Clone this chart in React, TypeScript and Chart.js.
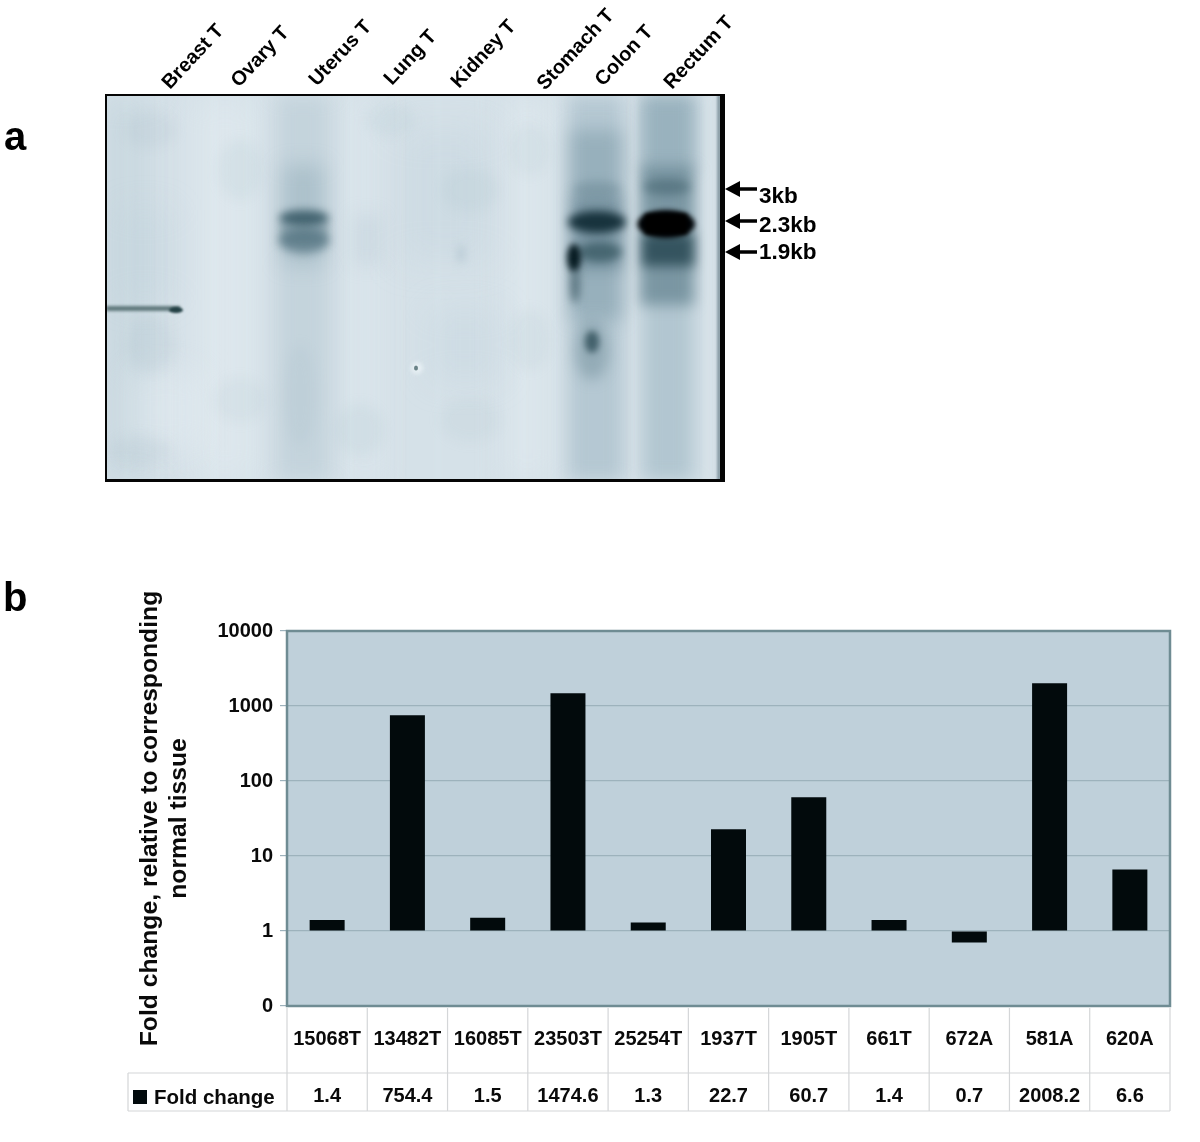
import React, { useEffect, useRef } from "react";
import { Chart, registerables } from "chart.js";

Chart.register(...registerables);

const samples = ["15068T", "13482T", "16085T", "23503T", "25254T", "1937T", "1905T", "661T", "672A", "581A", "620A"];
const foldChange = [1.4, 754.4, 1.5, 1474.6, 1.3, 22.7, 60.7, 1.4, 0.7, 2008.2, 6.6];
const yTicks = [0.1, 1, 10, 100, 1000, 10000];
const tissues = ["Breast T", "Ovary T", "Uterus T", "Lung T", "Kidney T", "Stomach T", "Colon T", "Rectum T"];
const sizes = ["3kb", "2.3kb", "1.9kb"];
const seriesName = "Fold change";
const yTitle = ["Fold change, relative to corresponding", "normal tissue"];

const FONT = '"Liberation Sans", Arial, sans-serif';

function blob(ctx: CanvasRenderingContext2D, x: number, y: number, w: number, h: number, color: string, blur: number) {
  ctx.save();
  ctx.filter = `blur(${blur}px)`;
  ctx.fillStyle = color;
  ctx.fillRect(x, y, w, h);
  ctx.restore();
}

function oval(ctx: CanvasRenderingContext2D, cx: number, cy: number, rx: number, ry: number, color: string, blur: number) {
  ctx.save();
  ctx.filter = `blur(${blur}px)`;
  ctx.fillStyle = color;
  ctx.beginPath();
  ctx.ellipse(cx, cy, rx, ry, 0, 0, Math.PI * 2);
  ctx.fill();
  ctx.restore();
}

function drawBlot(ctx: CanvasRenderingContext2D) {
  const L = 106, T = 95, R = 724, B = 481;
  ctx.save();
  ctx.beginPath();
  ctx.rect(L, T, R - L, B - T);
  ctx.clip();
  ctx.fillStyle = "#d5e1e8";
  ctx.fillRect(L, T, R - L, B - T);
  // soft background mottling
  blob(ctx, 100, 95, 50, 390, "rgba(180,200,210,0.35)", 16);
  blob(ctx, 195, 95, 60, 390, "rgba(232,240,244,0.45)", 18);
  blob(ctx, 345, 95, 40, 390, "rgba(226,235,240,0.35)", 14);
  blob(ctx, 400, 130, 90, 130, "rgba(185,204,214,0.28)", 18);
  blob(ctx, 505, 100, 45, 380, "rgba(230,238,243,0.4)", 14);
  blob(ctx, 130, 370, 70, 80, "rgba(232,240,244,0.4)", 16);
  blob(ctx, 430, 310, 70, 70, "rgba(190,208,218,0.28)", 16);
  blob(ctx, 120, 210, 50, 90, "rgba(190,208,218,0.3)", 16);
  const mottles: [number, number, number, number, number][] = [
    [150, 130, 26, 18, 0.16], [240, 170, 22, 30, 0.14], [390, 120, 24, 16, 0.14], [470, 190, 28, 22, 0.14],
    [530, 150, 20, 26, 0.12], [150, 345, 24, 28, 0.18], [240, 400, 26, 22, 0.12], [360, 430, 24, 26, 0.14],
    [470, 420, 30, 22, 0.12], [530, 340, 20, 30, 0.12], [140, 450, 30, 14, 0.16], [300, 395, 16, 50, 0.18],
  ];
  mottles.forEach(([x, y, rx, ry, a]) => oval(ctx, x, y, rx, ry, `rgba(165,188,200,${a})`, 6));
  // uterus lane
  blob(ctx, 276, 95, 54, 386, "rgba(165,188,200,0.36)", 10);
  blob(ctx, 282, 165, 42, 100, "rgba(135,162,176,0.38)", 10);
  blob(ctx, 280, 222, 48, 20, "rgba(95,125,138,0.5)", 5);
  oval(ctx, 304, 218, 25, 8, "rgba(50,85,98,0.85)", 4);
  oval(ctx, 304, 241, 25, 12, "rgba(70,105,118,0.65)", 5);
  // lung / kidney smudges
  blob(ctx, 352, 215, 30, 50, "rgba(178,198,210,0.28)", 9);
  oval(ctx, 461, 254, 4, 10, "rgba(165,188,200,0.5)", 4);
  // colon lane
  blob(ctx, 568, 95, 56, 386, "rgba(150,176,190,0.5)", 9);
  blob(ctx, 570, 130, 52, 190, "rgba(115,146,160,0.45)", 9);
  blob(ctx, 572, 195, 50, 75, "rgba(85,116,130,0.45)", 7);
  oval(ctx, 597, 189, 24, 8, "rgba(100,130,142,0.4)", 5);
  oval(ctx, 597, 222, 29, 11, "rgba(15,42,52,0.92)", 4);
  oval(ctx, 600, 252, 22, 10, "rgba(45,78,88,0.65)", 4);
  oval(ctx, 574, 258, 7, 14, "rgba(0,20,26,0.95)", 3);
  oval(ctx, 575, 285, 5, 18, "rgba(50,80,90,0.65)", 4);
  oval(ctx, 592, 342, 7, 11, "rgba(20,50,60,0.85)", 3);
  oval(ctx, 592, 350, 17, 30, "rgba(100,130,143,0.42)", 7);
  // rectum lane
  blob(ctx, 642, 95, 52, 386, "rgba(150,176,190,0.55)", 9);
  blob(ctx, 640, 95, 56, 75, "rgba(120,150,165,0.42)", 8);
  blob(ctx, 640, 165, 54, 140, "rgba(85,118,132,0.6)", 7);
  oval(ctx, 667, 187, 24, 8, "rgba(60,92,104,0.5)", 5);
  blob(ctx, 642, 234, 52, 32, "rgba(30,62,72,0.75)", 6);
  oval(ctx, 666, 224, 29, 14, "rgba(0,3,6,1)", 2.5);
  blob(ctx, 645, 214, 42, 20, "rgba(0,0,0,1)", 2);
  // vertical fine streaks
  const streaks: [number, number][] = [[125, 0.12], [158, 0.1], [212, 0.14], [246, 0.12], [348, 0.14], [398, 0.1], [436, 0.12], [478, 0.1], [521, 0.14], [552, 0.14], [632, 0.3], [705, 0.25]];
  streaks.forEach(([x, a]) => blob(ctx, x, 95, 4, 390, `rgba(240,246,249,${a})`, 3));
  // film scratch: breast lane line
  blob(ctx, 106, 306, 74, 5, "rgba(70,98,100,0.8)", 1.6);
  oval(ctx, 176, 310, 7, 3, "rgba(25,55,60,0.9)", 1.2);
  // speck
  oval(ctx, 417, 368, 6, 6, "rgba(240,246,249,0.7)", 2);
  oval(ctx, 416, 368, 2, 2.5, "rgba(105,130,135,1)", 0.6);
  // right strip
  blob(ctx, 717, 95, 4, 386, "rgba(130,150,160,0.9)", 1);
  ctx.restore();
  ctx.fillStyle = "#050505";
  ctx.fillRect(105, 94, 620, 2);
  ctx.fillRect(105, 94, 2, 388);
  ctx.fillRect(105, 479, 620, 3);
  ctx.fillRect(720, 94, 5, 388);
}

function drawBlotText(ctx: CanvasRenderingContext2D) {
  ctx.save();
  ctx.fillStyle = "#000";
  ctx.textBaseline = "alphabetic";
  ctx.textAlign = "left";
  ctx.font = `bold 40px ${FONT}`;
  ctx.fillText("a", 4, 150);
  ctx.fillText("b", 3, 611);
  ctx.font = `bold 20px ${FONT}`;
  const anchors: [number, number][] = [[170, 90], [239, 88], [317, 87], [392, 86], [459, 89], [545, 91], [603, 87], [672, 90]];
  tissues.forEach((t, i) => {
    ctx.save();
    ctx.translate(anchors[i][0], anchors[i][1]);
    ctx.rotate((-47 * Math.PI) / 180);
    ctx.fillText(t, 0, 0);
    ctx.restore();
  });
  const arrows = [189, 221, 252];
  const textY = [203, 232, 259];
  ctx.font = `bold 22.5px ${FONT}`;
  sizes.forEach((s, i) => {
    const y = arrows[i];
    ctx.fillRect(735, y - 1.75, 22, 3.5);
    ctx.beginPath();
    ctx.moveTo(725, y);
    ctx.lineTo(740, y - 8);
    ctx.lineTo(740, y + 8);
    ctx.closePath();
    ctx.fill();
    ctx.fillText(s, 759, textY[i]);
  });
  ctx.restore();
}

const pagePlugin = {
  id: "page",
  beforeDraw(chart: any) {
    const { ctx, chartArea: a } = chart;
    ctx.save();
    ctx.fillStyle = "#fff";
    ctx.fillRect(0, 0, chart.width, chart.height);
    drawBlot(ctx);
    drawBlotText(ctx);
    ctx.fillStyle = "#bfd0da";
    ctx.fillRect(a.left, a.top, a.right - a.left, a.bottom - a.top);
    ctx.restore();
  },
  afterDatasetsDraw(chart: any) {
    const { ctx, chartArea: a, scales } = chart;
    ctx.save();
    ctx.strokeStyle = "#6f8c93";
    ctx.lineWidth = 2.5;
    ctx.strokeRect(a.left, a.top, a.right - a.left, a.bottom - a.top);
    // data table
    const step = (a.right - a.left) / samples.length;
    const rowY = 1073, endY = 1111, tableLeft = 128;
    ctx.strokeStyle = "#d4d6d8";
    ctx.lineWidth = 1.2;
    ctx.beginPath();
    for (let i = 0; i <= samples.length; i++) {
      const x = a.left + i * step;
      ctx.moveTo(x, a.bottom + 2);
      ctx.lineTo(x, endY);
    }
    ctx.moveTo(tableLeft, rowY);
    ctx.lineTo(a.right, rowY);
    ctx.moveTo(tableLeft, endY);
    ctx.lineTo(a.right, endY);
    ctx.moveTo(tableLeft, rowY);
    ctx.lineTo(tableLeft, endY);
    ctx.stroke();
    ctx.fillStyle = "#0a0a0a";
    ctx.textAlign = "center";
    ctx.textBaseline = "middle";
    ctx.font = `bold 20px ${FONT}`;
    foldChange.forEach((v, i) => {
      ctx.fillText(v.toFixed(1), scales.x.getPixelForValue(i), 1096);
    });
    ctx.fillStyle = "#020a0c";
    ctx.fillRect(133, 1090, 14, 14);
    ctx.fillStyle = "#0a0a0a";
    ctx.textAlign = "left";
    ctx.font = `bold 20.5px ${FONT}`;
    ctx.fillText(seriesName, 154, 1098);
    ctx.restore();
  },
};

export default function App() {
  const ref = useRef<HTMLCanvasElement>(null);
  useEffect(() => {
    const chart = new Chart(ref.current!, {
      type: "bar",
      data: {
        labels: samples,
        datasets: [
          {
            label: seriesName,
            data: foldChange,
            base: 1,
            backgroundColor: "#020a0c",
            barPercentage: 0.436,
            categoryPercentage: 1,
          } as any,
        ],
      },
      plugins: [pagePlugin],
      options: {
        animation: false,
        responsive: false,
        devicePixelRatio: 1,
        layout: { padding: { left: 135, top: 631, right: 30, bottom: 0 } },
        plugins: { legend: { display: false }, tooltip: { enabled: false } },
        scales: {
          x: {
            grid: { display: false },
            border: { display: false },
            afterFit: (s: any) => { s.height = 136; },
            ticks: {
              font: { family: FONT, size: 20, weight: "bold" },
              color: "#0a0a0a",
              padding: 13.5,
              maxRotation: 0,
              autoSkip: false,
            },
          },
          y: {
            type: "logarithmic",
            min: 0.1,
            max: 10000,
            afterFit: (s: any) => { s.width = 152; },
            afterBuildTicks: (s: any) => { s.ticks = yTicks.map((value) => ({ value })); },
            border: { display: false },
            grid: { color: "#9db2bc", lineWidth: 1.2, tickLength: 7, drawTicks: true },
            ticks: {
              font: { family: FONT, size: 20, weight: "bold" },
              color: "#0a0a0a",
              padding: 7,
              callback: (v: any) => (Number(v) < 1 ? "0" : String(v)),
            },
            title: {
              display: true,
              text: yTitle,
              font: { family: FONT, size: 24.7, weight: "bold" },
              color: "#0a0a0a",
              padding: 0,
            },
          },
        },
      },
    } as any);
    return () => chart.destroy();
  }, []);
  return (
    <div style={{ position: "absolute", left: 0, top: 0 }}>
      <canvas ref={ref} width={1200} height={1142} style={{ display: "block" }} />
    </div>
  );
}
